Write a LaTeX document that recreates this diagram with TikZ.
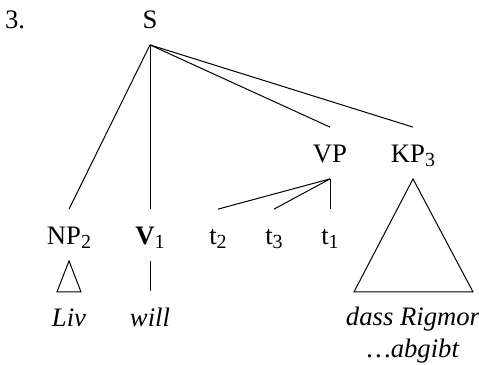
\documentclass[tikz,border=0pt]{standalone}
\usepackage{fontspec}
\setmainfont{Liberation Serif}
\usepackage{tikz}
\usetikzlibrary{positioning}
\newcommand{\catsub}[1]{\raisebox{-2.2pt}{\fontsize{9}{10}\selectfont #1}}

\begin{document}
\begin{tikzpicture}[
        x=0.45pt, y=-0.45pt,
        cat/.style={anchor=base, inner sep=0pt, outer ysep=7.6pt, text height=8.1pt, text depth=0pt, font=\fontsize{12}{14}\selectfont},
        word/.style={cat, font=\fontsize{12}{14}\selectfont\itshape},
        branch/.style={line width=0.45pt}
    ]
        \useasboundingbox (0,0) rectangle (479,364);
        \node[cat] (num) at (15,28) {3.};
        \node[cat] (S) at (150,28) {S};
        \node[cat] (NP) at (69,244) {NP\catsub{2}};
        \node[cat] (V) at (150,244) {\textbf{V}\catsub{1}};
        \node[cat] (VP) at (330,162) {VP};
        \node[cat] (KP) at (413,162) {KP\catsub{3}};
        \node[cat] (t2) at (218,244) {t\catsub{2}};
        \node[cat] (t3) at (274,244) {t\catsub{3}};
        \node[cat] (t1) at (330,244) {t\catsub{1}};
        \node[word] (liv) at (69,326) {Liv};
        \node[word] (will) at (150,326) {will};
        \node[word] (dass) at (413,325) {dass Rigmor};
        \node[word] (abgibt) at (413,357) {…abgibt};

        \draw[branch] (S.south) -- (NP.north);
        \draw[branch] (S.south) -- (V.north);
        \draw[branch] (S.south) -- (VP.north);
        \draw[branch] (S.south) -- (KP.north);
        \draw[branch] (VP.south) -- (t2.north);
        \draw[branch] (VP.south) -- (t3.north);
        \draw[branch] (VP.south) -- (t1.north);
        \draw[branch] (V.south) -- (will.north);
        \draw[branch] (NP.south) -- ++(-12,31) -- ++(24,0) -- cycle;
        \draw[branch] (KP.south) -- ++(-59,113) -- ++(119,0) -- cycle;
    \end{tikzpicture}
\end{document}
